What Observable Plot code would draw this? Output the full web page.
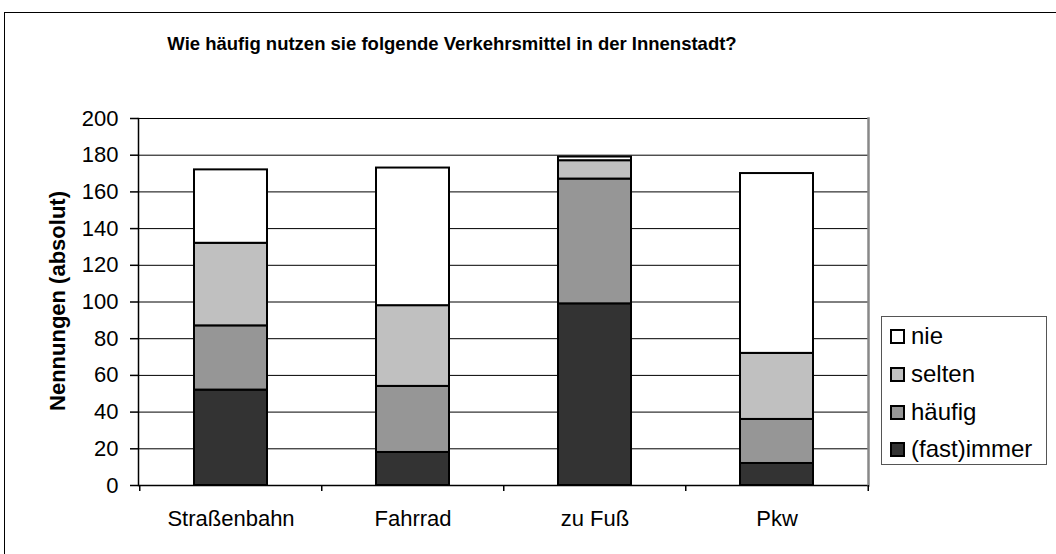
<!DOCTYPE html>
<html>
<head>
<meta charset="utf-8">
<script src="https://cdn.jsdelivr.net/npm/d3@7"></script>
<script src="https://cdn.jsdelivr.net/npm/@observablehq/plot@0.6"></script>
<style>
  html, body { margin: 0; padding: 0; background: #fff; }
  #wrap { position: relative; width: 1056px; height: 554px; overflow: hidden; font-family: "Liberation Sans", Arial, sans-serif; }
  #outer { position: absolute; left: 4px; top: 12px; width: 1200px; height: 700px; border-left: 1.5px solid #000; border-top: 1.5px solid #000; }
  #chart { position: absolute; left: 0; top: 0; }
  #title { position: absolute; left: 0; width: 904px; top: 33px; text-align: center; font-weight: bold; font-size: 18.5px; color: #000; white-space: nowrap; }
  #ylabel { position: absolute; left: 58px; top: 301px; transform: translate(-50%, -50%) rotate(-90deg); white-space: nowrap; font-weight: bold; font-size: 22px; color: #000; }
  #legend { position: absolute; left: 881px; top: 316px; width: 166px; height: 149px; border: 1px solid #555; box-sizing: border-box; background: #fff; }
  .item { position: absolute; left: 8px; height: 30px; display: flex; align-items: center; font-size: 24px; color: #000; white-space: nowrap; }
  .sw { width: 11px; height: 11px; border: 2px solid #000; margin-right: 6px; box-sizing: content-box; flex: none; }
</style>
</head>
<body>
<div id="wrap">
  <div id="outer"></div>
  <div id="chart"></div>
  <div id="title">Wie häufig nutzen sie folgende Verkehrsmittel in der Innenstadt?</div>
  <div id="ylabel">Nennungen (absolut)</div>
  <div id="legend"></div>
</div>
<script>
const categories = ["Straßenbahn", "Fahrrad", "zu Fuß", "Pkw"];
const series = ["(fast)immer", "häufig", "selten", "nie"];
const immer = [52, 18, 99, 12];
const haeufig = [35, 36, 68, 24];
const selten = [45, 44, 10, 36];
const nie = [40, 75, 2, 98];
const colors = ["#333333", "#969696", "#c0c0c0", "#ffffff"];
const yTicks = [0, 20, 40, 60, 80, 100, 120, 140, 160, 180, 200];

const valuesBySeries = [immer, haeufig, selten, nie];
const data = [];
categories.forEach((c, i) => {
  series.forEach((s, j) => data.push({cat: c, series: s, value: valuesBySeries[j][i]}));
});

const W = 1056, H = 554;
const mL = 138, mR = 188, mT = 118, mB = 69;
const step = (W - mL - mR) / categories.length;
const tickLen = 6 * 200 / (H - mT - mB);

const chart = Plot.plot({
  width: W,
  height: H,
  marginLeft: mL,
  marginRight: mR,
  marginTop: mT,
  marginBottom: mB,
  style: {fontFamily: "Liberation Sans, Arial, sans-serif", fontSize: "22px", color: "#000", background: "transparent"},
  x: {domain: categories, paddingInner: 0.6, paddingOuter: 0.3, label: null},
  y: {domain: [0, 200], ticks: yTicks, label: null},
  color: {domain: series, range: colors},
  marks: [
    Plot.gridY(yTicks, {stroke: "#000", strokeOpacity: 1, strokeWidth: 1}),
    Plot.barY(data, {x: "cat", y: "value", fill: "series", stroke: "#000", strokeWidth: 2}),
    Plot.ruleY([0], {stroke: "#000", strokeWidth: 1.5}),
    Plot.frame({anchor: "left", stroke: "#000", strokeWidth: 1.5}),
    Plot.frame({anchor: "right", stroke: "#888", strokeWidth: 2.5}),
    Plot.ruleX(categories, {x: d => d, dx: -step / 2, y1: 0, y2: -tickLen, stroke: "#000", strokeWidth: 1.5}),
    Plot.ruleX(categories.slice(-1), {x: d => d, dx: step / 2, y1: 0, y2: -tickLen, stroke: "#000", strokeWidth: 1.5}),
    Plot.axisY(yTicks, {tickSize: 8, tickPadding: 12, stroke: "#000", strokeWidth: 1.5, fontSize: 22, label: null}),
    Plot.axisX({tickSize: 0, tickPadding: 25, fontSize: 22, label: null})
  ]
});
document.getElementById("chart").appendChild(chart);

const legend = document.getElementById("legend");
const order = [3, 2, 1, 0];
const tops = [4, 42, 80, 117];
order.forEach((j, k) => {
  const it = document.createElement("div");
  it.className = "item";
  it.style.top = tops[k] + "px";
  const sw = document.createElement("span");
  sw.className = "sw";
  sw.style.background = colors[j];
  const t = document.createElement("span");
  t.textContent = series[j];
  it.appendChild(sw);
  it.appendChild(t);
  legend.appendChild(it);
});
</script>
</body>
</html>
